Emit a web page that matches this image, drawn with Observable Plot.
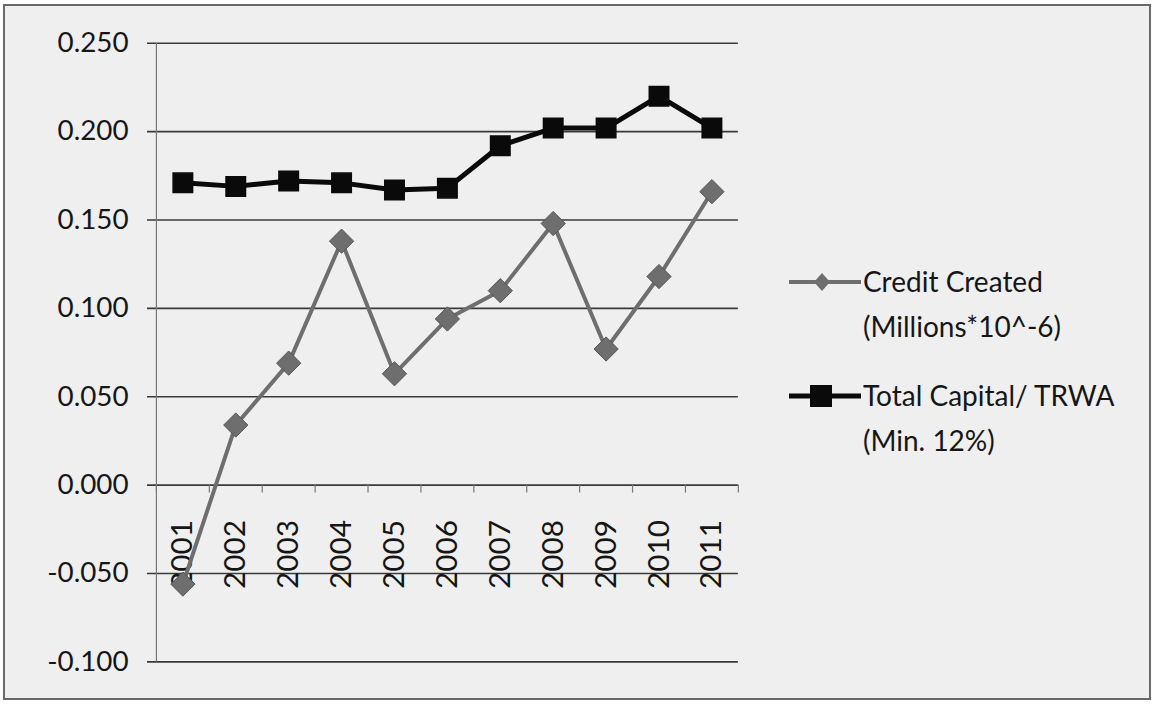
<!DOCTYPE html>
<html>
<head>
<meta charset="utf-8">
<script src="https://cdn.jsdelivr.net/npm/d3@7"></script>
<script src="https://cdn.jsdelivr.net/npm/@observablehq/plot@0.6"></script>
<style>
  html, body { margin: 0; padding: 0; background: #ffffff; }
  #frame {
    position: absolute; left: 3px; top: 4px; width: 1144px; height: 692px;
    border: 2px solid #6a6a6a; background: #efefef; overflow: hidden;
  }
  #chart { position: absolute; left: -5px; top: -6px; }
  #legend {
    position: absolute; left: 782px; top: 253px;
    font-family: Lato, "Open Sans", sans-serif; font-size: 28px; color: #161616;
    line-height: 45px;
  }
  .item { display: flex; align-items: flex-start; margin-bottom: 24px; }
  .item svg { flex: none; margin-top: 10px; }
  .item span { display: block; white-space: nowrap; }
</style>
</head>
<body>
<div id="frame">
  <div id="chart"></div>
  <div id="legend"></div>
</div>
<script>
// Years on the category axis
const years = [2001, 2002, 2003, 2004, 2005, 2006, 2007, 2008, 2009, 2010, 2011];
// Credit created (millions × 10^-6)
const creditCreated = [-0.056, 0.034, 0.069, 0.138, 0.063, 0.094, 0.110, 0.148, 0.077, 0.118, 0.166];
// Total capital / total risk-weighted assets (minimum 12%)
const capitalRatio = [0.171, 0.169, 0.172, 0.171, 0.167, 0.168, 0.192, 0.202, 0.202, 0.220, 0.202];
// Value-axis ticks
const yTicks = [-0.100, -0.050, 0.000, 0.050, 0.100, 0.150, 0.200, 0.250];

const seriesNames = ["Credit Created|(Millions*10^-6)", "Total Capital/ TRWA|(Min. 12%)"];

const credit = years.map((year, i) => ({year, value: creditCreated[i]}));
const capital = years.map((year, i) => ({year, value: capitalRatio[i]}));
// category boundaries, where the small ticks sit on the zero line
const bounds = [years[0] - 0.5, ...years.map(y => y + 0.5)];

const font = "Lato, 'Open Sans', sans-serif";
const gridColor = "#3a3a3a";
const creditColor = "#6e6e6e";
const capitalColor = "#0a0a0a";

const chart = Plot.plot({
  width: 1157,
  height: 707,
  marginLeft: 157,
  marginRight: 414,
  marginTop: 43,
  marginBottom: 41,
  style: {background: "transparent", fontFamily: font, fontSize: "28px", color: "#161616"},
  x: {domain: [years[0] - 0.5, years[years.length - 1] + 0.5], axis: null},
  y: {domain: [yTicks[0], yTicks[yTicks.length - 1]], axis: null},
  marks: [
    // horizontal gridlines, extended left of the axis as tick marks
    Plot.ruleY(yTicks, {stroke: gridColor, strokeWidth: 1.6, insetLeft: -9}),
    // vertical value axis
    Plot.ruleX([years[0] - 0.5], {stroke: "#777", strokeWidth: 1.2}),
    // value labels
    Plot.text(yTicks, {
      x: years[0] - 0.5, y: d => d, text: d => d.toFixed(3),
      textAnchor: "end", dx: -28, fontSize: 28, fill: "#161616"
    }),
    // category boundary ticks below the zero line
    Plot.ruleX(bounds, {y1: 0, y2: -0.0045, stroke: "#777", strokeWidth: 1.2}),
    // rotated year labels
    Plot.text(years, {
      x: d => d, y: 0, text: d => String(d), rotate: -90,
      textAnchor: "end", dy: 35, fontSize: 30, fill: "#161616"
    }),
    // credit created series
    Plot.line(credit, {x: "year", y: "value", stroke: creditColor, strokeWidth: 4}),
    Plot.dot(credit, {x: "year", y: "value", symbol: "diamond2", r: 11, fill: creditColor, stroke: "#555", strokeWidth: 1}),
    // capital ratio series
    Plot.line(capital, {x: "year", y: "value", stroke: capitalColor, strokeWidth: 5}),
    Plot.dot(capital, {x: "year", y: "value", symbol: "square2", r: 12.5, fill: capitalColor, stroke: capitalColor})
  ]
});
document.getElementById("chart").appendChild(chart);

// legend entries with line-and-marker swatches
const legend = d3.select("#legend");
const swatches = [
  {color: creditColor, marker: "diamond"},
  {color: capitalColor, marker: "square"}
];
seriesNames.forEach((name, i) => {
  const item = legend.append("div").attr("class", "item");
  const svg = item.append("svg").attr("width", 76).attr("height", 26);
  svg.append("line").attr("x1", 2).attr("x2", 74).attr("y1", 13).attr("y2", 13)
    .attr("stroke", swatches[i].color).attr("stroke-width", swatches[i].marker === "square" ? 5 : 4);
  if (swatches[i].marker === "square") {
    svg.append("rect").attr("x", 23).attr("y", 2).attr("width", 22).attr("height", 22).attr("fill", swatches[i].color);
  } else {
    svg.append("path").attr("d", "M35,4 L43,13 L35,22 L27,13 Z").attr("fill", swatches[i].color);
  }
  const text = item.append("div");
  name.split("|").forEach(line => text.append("span").text(line));
});
</script>
</body>
</html>
